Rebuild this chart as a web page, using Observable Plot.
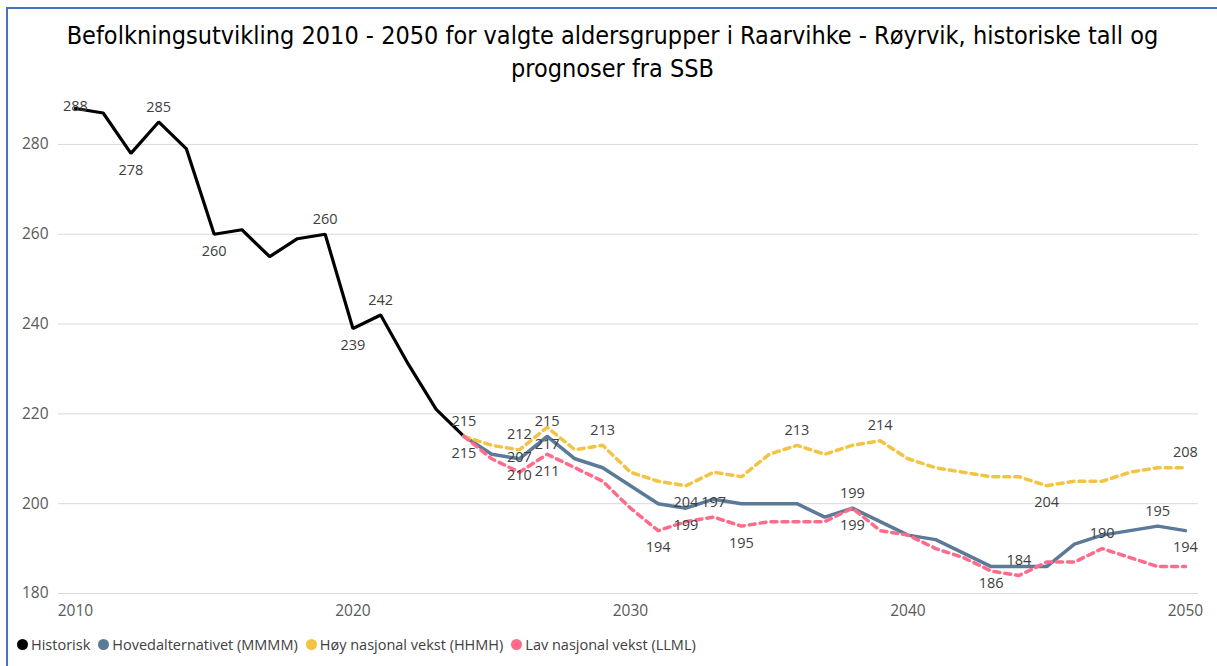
<!DOCTYPE html>
<html><head><meta charset="utf-8">
<script src="https://cdn.jsdelivr.net/npm/d3@7"></script>
<script src="https://cdn.jsdelivr.net/npm/@observablehq/plot@0.6"></script>
<style>
body{margin:0;background:#fff;width:1217px;height:666px;overflow:hidden;position:relative;font-family:"Open Sans",sans-serif}
#frame{position:absolute;left:6px;top:7px;right:-10px;bottom:-10px;border-left:2px solid #4472c4;border-top:2px solid #4472c4}
#title{position:absolute;left:8px;right:0;top:19px;text-align:center;font-family:"Liberation Sans Narrow","DejaVu Sans Condensed",sans-serif;font-size:25px;line-height:33px;color:#000}
#chart{position:absolute;left:0;top:88px}
#legend{position:absolute;left:17px;top:635px;font-size:14.5px;color:#404040;display:flex;gap:8px;white-space:nowrap}
#legend span.item{display:flex;align-items:center;gap:3px}
#legend i{display:inline-block;width:11px;height:11px;border-radius:50%}
</style>
</head><body>
<div id="frame"></div>
<div id="title">Befolkningsutvikling 2010 - 2050 for valgte aldersgrupper i Raarvihke - Røyrvik, historiske tall og<br>prognoser fra SSB</div>
<div id="chart"></div>
<div id="legend"></div>
<script>
const seriesNames = ["Historisk", "Hovedalternativet (MMMM)", "Høy nasjonal vekst (HHMH)", "Lav nasjonal vekst (LLML)"];
const seriesColors = ["#000000", "#5a7a98", "#f3c443", "#ff6b8b"];
const histYears = d3.range(2010, 2025);
const historisk = [288,287,278,285,279,260,261,255,259,260,239,242,231,221,215];
const progYears = d3.range(2024, 2051);
const hoved = [215,211,210,215,210,208,204,200,199,201,200,200,200,197,199,196,193,192,189,186,186,186,191,193,194,195,194];
const hoy   = [215,213,212,217,212,213,207,205,204,207,206,211,213,211,213,214,210,208,207,206,206,204,205,205,207,208,208];
const lav   = [215,210,207,211,208,205,199,194,196,197,195,196,196,196,199,194,193,190,188,185,184,187,187,190,188,186,186];
const yTicks = [180, 200, 220, 240, 260, 280];
const xTicks = [2010, 2020, 2030, 2040, 2050];
// data labels: [series index, year, side]
const labelDefs = [
  [0,2010,"center"],[0,2012,"below"],[0,2013,"above"],[0,2015,"below"],[0,2019,"above"],
  [0,2020,"below"],[0,2021,"above"],[0,2024,"above"],
  [1,2026,"below"],[1,2027,"above"],[1,2032,"below"],[1,2038,"above"],[1,2043,"below"],[1,2049,"above"],[1,2050,"below"],
  [2,2026,"above"],[2,2027,"below"],[2,2029,"above"],[2,2032,"below"],[2,2036,"above"],[2,2039,"above"],[2,2045,"below"],[2,2050,"above"],
  [3,2024,"below"],[3,2026,"above"],[3,2027,"below"],[3,2031,"below"],[3,2033,"above"],[3,2034,"below"],[3,2038,"below"],[3,2044,"above"],[3,2047,"above"]
];

const rows = [];
historisk.forEach((v,i)=>rows.push({s:0, year:histYears[i], value:v}));
[hoved,hoy,lav].forEach((arr,k)=>arr.forEach((v,i)=>rows.push({s:k+1, year:progYears[i], value:v})));
const lookup = (s,y)=>rows.find(r=>r.s===s && r.year===y);
const labels = labelDefs.map(([s,y,side])=>({...lookup(s,y), side}));

const font = "'Open Sans', sans-serif";
const lineMark = (s, extra) => Plot.line(rows.filter(r=>r.s===s), {x:"year", y:"value", stroke: seriesColors[s], ...extra});
const textMark = (side, dy) => Plot.text(labels.filter(d=>d.side===side), {x:"year", y:"value", text: d=>String(d.value), dy, fill:"#404040", fontSize:14.5, fontFamily:font});

const chart = Plot.plot({
  width: 1217, height: 540,
  marginLeft: 58, marginRight: 19, marginTop: 11, marginBottom: 35,
  style: {fontFamily: font, background: "transparent", overflow: "visible"},
  x: {domain: [2009.39, 2050.47]},
  y: {domain: [180, 290]},
  marks: [
    Plot.gridY(yTicks, {stroke:"#d9d9d9", strokeOpacity:1, strokeWidth:1}),
    Plot.axisY(yTicks, {tickSize:0, tickPadding:10, fontSize:15.5, color:"#595959", label:null, tickFormat:d=>String(d)}),
    Plot.axisX(xTicks, {tickSize:0, tickPadding:11, fontSize:15.5, color:"#595959", label:null, tickFormat:d=>String(d)}),
    lineMark(0, {strokeWidth:3.2, strokeLinejoin:"miter"}),
    lineMark(1, {strokeWidth:3.5, strokeLinejoin:"miter"}),
    lineMark(2, {strokeWidth:3.5, strokeDasharray:"6,5"}),
    lineMark(3, {strokeWidth:3.5, strokeDasharray:"6,5"}),
    textMark("above", -15),
    textMark("below", 17),
    textMark("center", -2)
  ]
});
document.getElementById("chart").appendChild(chart);

const lg = document.getElementById("legend");
seriesNames.forEach((n,i)=>{
  const sp = document.createElement("span"); sp.className="item";
  const dot = document.createElement("i"); dot.style.background = seriesColors[i];
  sp.appendChild(dot); sp.appendChild(document.createTextNode(n));
  lg.appendChild(sp);
});
</script>
</body></html>
